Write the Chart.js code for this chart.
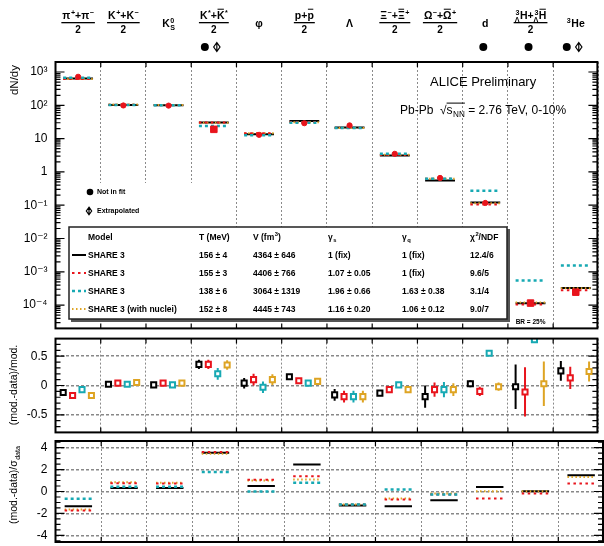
<!DOCTYPE html>
<html>
<head>
<meta charset="utf-8">
<script src="https://cdn.jsdelivr.net/npm/chart.js@4.4.0/dist/chart.umd.min.js"></script>
<style>
  html, body { margin: 0; padding: 0; background: #fff; }
  #wrap { position: relative; width: 604px; height: 546px; overflow: hidden; }
  canvas { position: absolute; left: 0; }
</style>
</head>
<body>
<div id="wrap">
  <canvas id="cYield" width="604" height="334" style="top:0px"></canvas>
  <canvas id="cRel" width="604" height="105" style="top:333px"></canvas>
  <canvas id="cSig" width="604" height="108" style="top:438px"></canvas>
</div>
<script>
// ---- particle species (one column each) ----
const particles = ['pi', 'K', 'K0S', 'Kstar', 'phi', 'p', 'Lambda', 'Xi', 'Omega', 'd', 'H3L', 'He3'];
const notInFit     = [false, false, false, true, false, false, false, false, false, true, true, true];
const extrapolated = [false, false, false, true, false, false, false, false, false, false, false, true];

// ---- measured yields dN/dy ----
const dataYield = [720, 99, 98, 19, 13, 29, 25, 3.5, 0.66, 0.117, 1.15e-4, 2.45e-4];

// ---- model yields dN/dy ----
const yieldShare   = [643, 102, 100, 30.5, 13.5, 34, 21.5, 3.1, 0.555, 0.12, 1.13e-4, 3.27e-4];
const yieldGammaS  = [615, 104, 103, 30.5, 14.4, 31.5, 21, 3.27, 0.62, 0.106, 1.04e-4, 2.8e-4];
const yieldGammaSQ = [673, 102, 100, 24, 12.6, 30.2, 21, 3.54, 0.62, 0.27, 5.5e-4, 1.55e-3];
const yieldNuclei  = [615, 105, 103, 30, 14.4, 31.2, 21, 3.27, 0.62, 0.115, 1.19e-4, 3.2e-4];

// ---- (model - data) / model ----
const relShare      = [-0.12, 0.02, 0.01, 0.36, 0.04, 0.15, -0.16, -0.13, -0.19, 0.03, -0.02, 0.25];
const relShareErr   = [0.04, 0.04, 0.03, 0.08, 0.09, 0.04, 0.10, 0.03, 0.19, 0.06, 0.38, 0.17];
const relGammaS     = [-0.17, 0.04, 0.04, 0.36, 0.10, 0.08, -0.19, -0.07, -0.07, -0.10, -0.11, 0.13];
const relGammaSErr  = [0.04, 0.04, 0.03, 0.08, 0.10, 0.04, 0.10, 0.04, 0.12, 0.08, 0.42, 0.19];
const relGammaSQ    = [-0.07, 0.02, 0.01, 0.20, -0.03, 0.04, -0.19, 0.01, -0.07, 0.55, 0.78, null];
const relGammaSQErr = [0.04, 0.04, 0.03, 0.10, 0.10, 0.04, 0.10, 0.03, 0.13, 0.02, 0.05, null];
const relNuclei     = [-0.17, 0.05, 0.04, 0.35, 0.10, 0.07, -0.19, -0.07, -0.07, -0.02, 0.03, 0.24];
const relNucleiErr  = [0.04, 0.04, 0.03, 0.08, 0.09, 0.04, 0.10, 0.04, 0.11, 0.07, 0.38, 0.17];

// ---- (model - data) / sigma_data ----
const sigShare   = [-1.34, 0.33, 0.33, 3.53, 0.49, 2.47, -1.28, -1.34, -0.79, 0.40, 0.03, 1.49];
const sigGammaS  = [-1.73, 0.75, 0.73, 3.59, 1.07, 1.40, -1.19, -0.73, -0.27, -0.64, -0.18, 0.73];
const sigGammaSQ = [-0.67, 0.43, 0.43, 1.77, 0.00, 0.79, -1.19, 0.18, -0.27, null, null, null];
const sigNuclei  = [-1.64, 0.85, 0.79, 3.44, 1.00, 1.10, -1.19, -0.64, -0.18, 0.03, 0.03, 1.31];

// ---- axis tick labels ----
const yieldTicks = [1e-4, 1e-3, 1e-2, 1e-1, 1, 10, 1e2, 1e3];
const yieldTickLabels = ['10⁻⁴', '10⁻³', '10⁻²', '10⁻¹', '1', '10', '10²', '10³'];
const relTicks = [-0.5, 0, 0.5];
const relTickLabels = ['-0.5', '0', '0.5'];
const sigTicks = [-4, -2, 0, 2, 4];
const sigTickLabels = ['-4', '-2', '0', '2', '4'];

// ---- fit results shown in the legend table ----
const fitModels = ['SHARE 3', 'SHARE 3', 'SHARE 3', 'SHARE 3 (with nuclei)'];
const fitT      = ['156 ± 4', '155 ± 3', '138 ± 6', '152 ± 8'];
const fitV      = ['4364 ± 646', '4406 ± 766', '3064 ± 1319', '4445 ± 743'];
const fitGs     = ['1 (fix)', '1.07 ± 0.05', '1.96 ± 0.66', '1.16 ± 0.20'];
const fitGq     = ['1 (fix)', '1 (fix)', '1.63 ± 0.38', '1.06 ± 0.12'];
const fitChi2   = ['12.4/6', '9.6/5', '3.1/4', '9.0/7'];

// ---- styling ----
const FAMILY = '"Liberation Sans", Arial, "DejaVu Sans", sans-serif';
const C_SHARE = '#000000', C_GS = '#e8141c', C_GSQ = '#17a9b3', C_NUC = '#dea423';
const modelStyles = [
  { color: C_SHARE, dash: [],         width: 2 },
  { color: C_GS,    dash: [2.5, 3.5], width: 2 },
  { color: C_GSQ,   dash: [3, 3],     width: 2.5 },
  { color: C_NUC,   dash: [1.5, 2.5], width: 2 }
];
const GRID_COLOR = '#8a8a8a';

function setFont(ctx, size, weight) {
  ctx.font = (weight || 'normal') + ' ' + size + 'px ' + FAMILY;
}

// Text with super/subscripts, pre-scripts and overbars.
function layoutRich(ctx, parts, fs, weight, draw, x0, y) {
  let x = x0;
  const small = fs * 0.68;
  for (const p0 of parts) {
    const p = typeof p0 === 'string' ? { t: p0 } : p0;
    const start = x;
    if (p.pre || p.presub) {
      setFont(ctx, small, weight);
      const w1 = p.pre ? ctx.measureText(p.pre).width : 0;
      const w2 = p.presub ? ctx.measureText(p.presub).width : 0;
      const w = Math.max(w1, w2);
      if (draw) {
        if (p.pre) ctx.fillText(p.pre, x + w - w1, y - fs * 0.42);
        if (p.presub) ctx.fillText(p.presub, x + w - w2, y + fs * 0.28);
      }
      x += w + 0.5;
    }
    setFont(ctx, fs, weight);
    const wm = ctx.measureText(p.t).width;
    if (draw) {
      ctx.fillText(p.t, x, y);
      if (p.bar) ctx.fillRect(x + wm * 0.08, y - fs * 0.98, wm * 0.84, Math.max(1, fs * 0.09));
    }
    x += wm;
    if (p.sup || p.sub) {
      setFont(ctx, small, weight);
      const w1 = p.sup ? ctx.measureText(p.sup).width : 0;
      const w2 = p.sub ? ctx.measureText(p.sub).width : 0;
      if (draw) {
        if (p.sup) ctx.fillText(p.sup, x + 0.5, y - fs * 0.42);
        if (p.sub) ctx.fillText(p.sub, x + 0.5, y + fs * 0.28);
      }
      x += Math.max(w1, w2) + 0.5;
    }
    if (p.over && draw) ctx.fillRect(start, y - fs * 0.95, x - start, Math.max(1, fs * 0.08));
  }
  return x - x0;
}
function drawRich(ctx, parts, x, y, fs, weight, align) {
  ctx.textAlign = 'left';
  ctx.textBaseline = 'alphabetic';
  const w = layoutRich(ctx, parts, fs, weight, false, 0, 0);
  const x0 = align === 'center' ? x - w / 2 : align === 'right' ? x - w : x;
  layoutRich(ctx, parts, fs, weight, true, x0, y);
  return w;
}
function drawVertical(ctx, parts, x, y, fs, weight) {
  ctx.save();
  ctx.translate(x, y);
  ctx.rotate(-Math.PI / 2);
  drawRich(ctx, parts, 0, 0, fs, weight, 'center');
  ctx.restore();
}

// Column headers: [numerator parts, has "/2" denominator]
const headers = [
  [[{ t: 'π', sup: '+' }, '+', { t: 'π', sup: '−' }], true],
  [[{ t: 'K', sup: '+' }, '+', { t: 'K', sup: '−' }], true],
  [[{ t: 'K', sup: '0', sub: 'S' }], false],
  [[{ t: 'K', sup: '*' }, '+', { t: 'K', sup: '*', bar: true }], true],
  [[{ t: 'φ' }], false],
  [[{ t: 'p' }, '+', { t: 'p', bar: true }], true],
  [[{ t: 'Λ' }], false],
  [[{ t: 'Ξ', sup: '−' }, '+', { t: 'Ξ', sup: '+', bar: true }], true],
  [[{ t: 'Ω', sup: '−' }, '+', { t: 'Ω', sup: '+', bar: true }], true],
  [[{ t: 'd' }], false],
  [[{ t: 'H', pre: '3', presub: 'Λ' }, '+', { t: 'H', pre: '3', presub: 'Λ', bar: true }], true],
  [[{ t: 'He', pre: '3' }], false]
];

// ---- inward frame ticks and panel border ----
function framePlugin(tickMarks) {
  return {
    id: 'frame',
    afterDatasetsDraw(chart) {
      const { ctx, chartArea: a, scales: { x, y } } = chart;
      const right = a.right - 1;
      ctx.save();
      ctx.strokeStyle = '#000';
      ctx.lineWidth = 1.2;
      ctx.beginPath();
      tickMarks.forEach(m => {
        const py = y.getPixelForValue(m.v);
        if (py < a.top + 1 || py > a.bottom - 1) return;
        const L = m.major ? 9 : 5;
        ctx.moveTo(a.left, py); ctx.lineTo(a.left + L, py);
        ctx.moveTo(right, py); ctx.lineTo(right - L, py);
      });
      for (let i = 1; i < particles.length; i++) {
        const px = x.getPixelForValue(i);
        ctx.moveTo(px, a.top); ctx.lineTo(px, a.top + 5);
        ctx.moveTo(px, a.bottom); ctx.lineTo(px, a.bottom - 5);
      }
      ctx.stroke();
      ctx.lineWidth = 2;
      ctx.strokeRect(a.left, a.top, right - a.left, a.bottom - a.top);
      ctx.restore();
    }
  };
}
function logMarks() {
  const out = [];
  for (let d = -5; d <= 3; d++) for (let m = 1; m <= 9; m++) out.push({ v: m * Math.pow(10, d), major: m === 1 });
  return out;
}
function linMarks(lo, hi, step, majorEvery) {
  const out = [];
  const n = Math.round((hi - lo) / step);
  for (let k = 0; k <= n; k++) {
    const v = lo + k * step;
    out.push({ v, major: Math.abs(v / majorEvery - Math.round(v / majorEvery)) < 1e-6 });
  }
  return out;
}

// ---- vertical error bars for datasets carrying an `errors` array ----
const errorBars = {
  id: 'errorBars',
  beforeDatasetsDraw(chart) {
    const { ctx, chartArea: a, scales: { x, y } } = chart;
    ctx.save();
    ctx.beginPath();
    ctx.rect(a.left, a.top, a.right - a.left, a.bottom - a.top);
    ctx.clip();
    chart.data.datasets.forEach(ds => {
      if (!ds.errors) return;
      ctx.strokeStyle = ds.pointBorderColor;
      ctx.lineWidth = 2;
      ds.data.forEach((p, i) => {
        const e = ds.errors[i];
        if (p.y == null || e == null) return;
        const px = x.getPixelForValue(p.x);
        ctx.beginPath();
        ctx.moveTo(px, y.getPixelForValue(p.y - e));
        ctx.lineTo(px, y.getPixelForValue(p.y + e));
        ctx.stroke();
      });
    });
    ctx.restore();
  }
};

function segments(vals, half) {
  const pts = [];
  vals.forEach((v, i) => {
    if (v == null) return;
    pts.push({ x: i + 0.5 - half, y: v }, { x: i + 0.5 + half, y: v }, { x: i + 0.5 + half, y: null });
  });
  return pts;
}
function segDataset(vals, style, half) {
  return {
    data: segments(vals, half),
    borderColor: style.color, borderWidth: style.width, borderDash: style.dash,
    borderCapStyle: 'butt', pointRadius: 0, spanGaps: false, fill: false, tension: 0
  };
}
function markerDataset(vals, errs, color, k) {
  const off = -0.33 + 0.208 * k;
  return {
    data: vals.map((v, i) => ({ x: i + 0.5 + off, y: v })),
    errors: errs,
    showLine: false, pointStyle: 'rect', pointRadius: 3.6, pointBorderWidth: 2,
    pointBackgroundColor: '#ffffff', pointBorderColor: color, pointHoverRadius: 3.6
  };
}

function xScale() {
  return {
    type: 'linear', min: 0, max: particles.length,
    afterFit: s => { s.height = 0; },
    ticks: { display: false, stepSize: 1 },
    grid: { color: GRID_COLOR, lineWidth: 1, drawTicks: false },
    border: { display: false, dash: [2, 2] }
  };
}
function yBase(ticks, labels, grid) {
  return {
    afterFit: s => { s.width = 55.5; s.paddingTop = 0; s.paddingBottom = 0; },
    afterBuildTicks: s => { s.ticks = ticks.map(v => ({ value: v })); },
    ticks: {
      padding: 8, color: '#000', font: { family: FAMILY, size: 12 },
      callback: (v) => labels[ticks.indexOf(v)]
    },
    grid: grid ? { color: '#888', lineWidth: 1.5, drawTicks: false } : { display: false, drawTicks: false },
    border: { display: false, dash: [3, 2] }
  };
}
const baseOpts = {
  responsive: false, animation: false, devicePixelRatio: 1,
  events: [],
  plugins: { legend: { display: false }, tooltip: { enabled: false } }
};

// ================= top panel: yields =================
function drawExtrapMarker(ctx, cx, cy, r) {
  ctx.save();
  ctx.strokeStyle = '#000'; ctx.lineWidth = 1.2;
  ctx.beginPath();
  ctx.moveTo(cx, cy - r); ctx.lineTo(cx + r * 0.7, cy); ctx.lineTo(cx, cy + r); ctx.lineTo(cx - r * 0.7, cy); ctx.closePath();
  ctx.moveTo(cx, cy - r); ctx.lineTo(cx, cy + r);
  ctx.stroke();
  ctx.restore();
}
const yieldAnnotations = {
  id: 'yieldAnnotations',
  beforeDatasetsDraw(chart) {
    const { ctx } = chart;
    ctx.save();
    ctx.fillStyle = '#fff';
    ctx.fillRect(57, 183, 176, 45);
    ctx.fillRect(69, 227, 441, 103);
    ctx.restore();
  },
  afterDraw(chart) {
    const { ctx, scales: { x } } = chart;
    ctx.save();
    ctx.fillStyle = '#000';
    ctx.strokeStyle = '#000';

    // column headers
    headers.forEach(([parts, frac], i) => {
      const cx = x.getPixelForValue(i + 0.5);
      if (frac) {
        const w = drawRich(ctx, parts, cx, 19, 10.5, 'bold', 'center');
        ctx.fillRect(cx - w / 2 - 1, 22, w + 2, 1.3);
        setFont(ctx, 10, 'bold');
        ctx.textAlign = 'center';
        ctx.fillText('2', cx, 32.5);
      } else {
        drawRich(ctx, parts, cx, 27, 10.5, 'bold', 'center');
      }
      // fit-status markers
      const both = notInFit[i] && extrapolated[i];
      if (notInFit[i]) {
        ctx.beginPath();
        ctx.arc(cx + (both ? -9 : -2), 47, 4, 0, Math.PI * 2);
        ctx.fill();
      }
      if (extrapolated[i]) drawExtrapMarker(ctx, cx + 3, 47, 4.5);
    });

    // status legend
    ctx.beginPath(); ctx.arc(90, 192, 3.3, 0, Math.PI * 2); ctx.fill();
    drawExtrapMarker(ctx, 89, 211, 3.8);
    setFont(ctx, 7, 'bold');
    ctx.textAlign = 'left'; ctx.textBaseline = 'middle';
    ctx.fillText('Not in fit', 97, 192.5);
    ctx.fillText('Extrapolated', 97, 211.5);

    // experiment labels
    ctx.textBaseline = 'alphabetic';
    setFont(ctx, 13, 'normal');
    ctx.fillText('ALICE Preliminary', 430, 86);
    drawRich(ctx, ['Pb-Pb  ', '√', { t: 's', sub: 'NN', over: true }, ' = 2.76 TeV, 0-10%'], 400, 114, 12, 'normal', 'left');

    setFont(ctx, 6.5, 'bold');
    ctx.textAlign = 'center'; ctx.textBaseline = 'middle';
    ctx.fillText('BR = 25%', x.getPixelForValue(10.5), 322);

    // fit-result table
    ctx.fillStyle = '#555';
    ctx.fillRect(71, 229, 439, 93);
    ctx.fillStyle = '#fff';
    ctx.fillRect(69, 227, 438, 92);
    ctx.strokeStyle = '#222'; ctx.lineWidth = 1.5;
    ctx.strokeRect(69, 227, 438, 92);
    ctx.fillStyle = '#000';
    const cols = [88, 199, 253, 328, 402, 470];
    const hy = 240;
    const fs = 8.5;
    drawRich(ctx, ['Model'], cols[0], hy, fs, 'bold', 'left');
    drawRich(ctx, ['T (MeV)'], cols[1], hy, fs, 'bold', 'left');
    drawRich(ctx, [{ t: 'V (fm', sup: '3' }, ')'], cols[2], hy, fs, 'bold', 'left');
    drawRich(ctx, [{ t: 'γ', sub: 's' }], cols[3], hy, fs, 'bold', 'left');
    drawRich(ctx, [{ t: 'γ', sub: 'q' }], cols[4], hy, fs, 'bold', 'left');
    drawRich(ctx, [{ t: 'χ', sup: '2' }, '/NDF'], cols[5], hy, fs, 'bold', 'left');
    fitModels.forEach((m, r) => {
      const ry = hy + 18 * (r + 1);
      const st = modelStyles[r];
      ctx.save();
      ctx.strokeStyle = st.color; ctx.lineWidth = st.width; ctx.setLineDash(st.dash);
      ctx.beginPath(); ctx.moveTo(72, ry - 3); ctx.lineTo(86, ry - 3); ctx.stroke();
      ctx.restore();
      [m, fitT[r], fitV[r], fitGs[r], fitGq[r], fitChi2[r]].forEach((t, c) => {
        drawRich(ctx, [t], cols[c], ry, fs, 'bold', 'left');
      });
    });

    // axis title
    drawVertical(ctx, ['dN/dy'], 18, 80, 11.5, 'normal');
    ctx.restore();
  }
};

const squareMarkers = [3, 10, 11];
new Chart(document.getElementById('cYield'), {
  type: 'line',
  data: {
    datasets: [
      {
        data: dataYield.map((v, i) => ({ x: i + 0.5, y: v })),
        showLine: false,
        pointStyle: dataYield.map((v, i) => squareMarkers.includes(i) ? 'rect' : 'circle'),
        pointRadius: dataYield.map((v, i) => squareMarkers.includes(i) ? 4.6 : 2.6),
        pointBackgroundColor: C_GS, pointBorderColor: C_GS, pointBorderWidth: 1
      },
      segDataset(yieldGammaSQ, modelStyles[2], 0.33),
      segDataset(yieldGammaS, modelStyles[1], 0.33),
      segDataset(yieldNuclei, modelStyles[3], 0.33),
      segDataset(yieldShare, modelStyles[0], 0.33)
    ]
  },
  options: Object.assign({}, baseOpts, {
    layout: { padding: { top: 62, bottom: 2, left: 0, right: 0 } },
    scales: {
      x: xScale(),
      y: Object.assign(yBase(yieldTicks, yieldTickLabels, false), { type: 'logarithmic', min: 2e-5, max: 2e3 })
    }
  }),
  plugins: [yieldAnnotations, framePlugin(logMarks())]
});

// ================= middle panel: (mod.-data)/mod. =================
new Chart(document.getElementById('cRel'), {
  type: 'line',
  data: {
    datasets: [
      markerDataset(relShare, relShareErr, C_SHARE, 0),
      markerDataset(relGammaS, relGammaSErr, C_GS, 1),
      markerDataset(relGammaSQ, relGammaSQErr, C_GSQ, 2),
      markerDataset(relNuclei, relNucleiErr, C_NUC, 3)
    ]
  },
  options: Object.assign({}, baseOpts, {
    layout: { padding: { top: 2, bottom: 2, left: 0, right: 0 } },
    scales: {
      x: xScale(),
      y: Object.assign(yBase(relTicks, relTickLabels, true), { type: 'linear', min: -0.8, max: 0.8 })
    }
  }),
  plugins: [errorBars, framePlugin(linMarks(-0.8, 0.8, 0.1, 0.5)), {
    id: 'relTitle',
    afterDraw(chart) {
      const ctx = chart.ctx;
      ctx.save(); ctx.fillStyle = '#000';
      drawVertical(ctx, ['(mod.-data)/mod.'], 17, 52, 10.5, 'normal');
      ctx.restore();
    }
  }]
});

// ================= bottom panel: (mod.-data)/sigma =================
new Chart(document.getElementById('cSig'), {
  type: 'line',
  data: {
    datasets: [
      segDataset(sigGammaSQ, modelStyles[2], 0.3),
      segDataset(sigGammaS, modelStyles[1], 0.3),
      segDataset(sigNuclei, modelStyles[3], 0.3),
      segDataset(sigShare, modelStyles[0], 0.3)
    ]
  },
  options: Object.assign({}, baseOpts, {
    layout: { padding: { top: 3, bottom: 4, left: 0, right: 0 } },
    scales: {
      x: xScale(),
      y: Object.assign(yBase(sigTicks, sigTickLabels, true), { type: 'linear', min: -4.6, max: 4.6 })
    }
  }),
  plugins: [framePlugin(linMarks(-4.5, 4.5, 0.5, 2)), {
    id: 'sigTitle',
    afterDraw(chart) {
      const ctx = chart.ctx;
      ctx.save(); ctx.fillStyle = '#000';
      drawVertical(ctx, ['(mod.-data)/', { t: 'σ', sub: 'data' }], 17, 47, 10.5, 'normal');
      ctx.restore();
    }
  }]
});
</script>
</body>
</html>
